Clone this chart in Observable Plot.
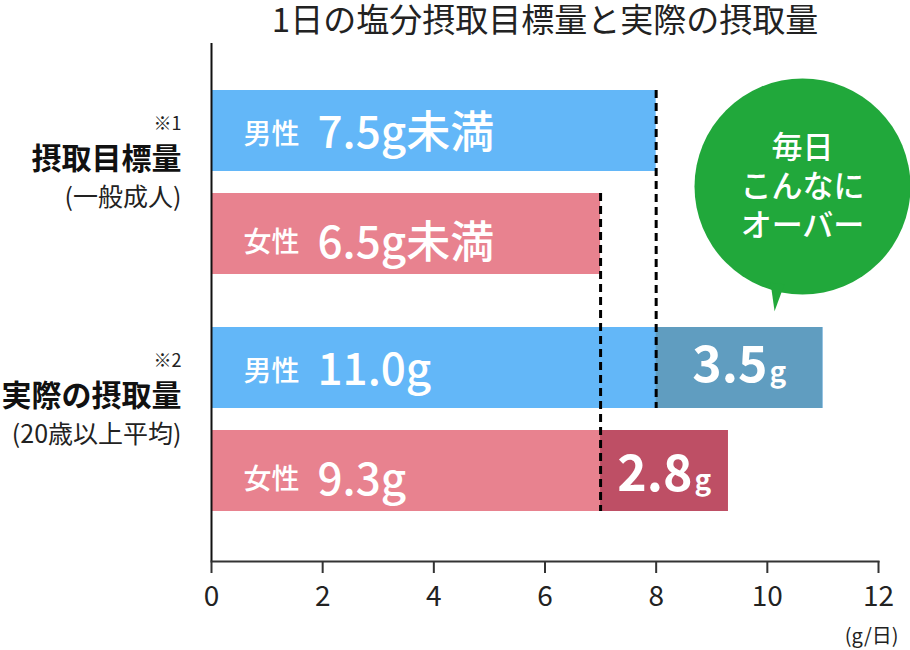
<!DOCTYPE html>
<html><head><meta charset="utf-8">
<script src="https://cdn.jsdelivr.net/npm/d3@7"></script>
<script src="https://cdn.jsdelivr.net/npm/@observablehq/plot@0.6"></script>
<style>
body{margin:0;background:#fff;}
#chart{width:910px;height:650px;}
</style></head><body><div id="chart"></div>
<script>
const title = "1日の塩分摂取目標量と実際の摂取量";
const groups = ["摂取目標量", "実際の摂取量"];
const groupNotes = ["※1", "※2"];
const groupSubs = ["(一般成人)", "(20歳以上平均)"];
const sexes = ["男性", "女性"];
const targetBars = [8.0, 7.0];          // bar ends as drawn in the picture
const targetLabels = ["7.5g未満", "6.5g未満"];
const actualValues = [11.0, 9.3];
const actualLabels = ["11.0g", "9.3g"];
const excessLabels = ["3.5", "2.8"];
const xTicks = [0, 2, 4, 6, 8, 10, 12];
const unitLabel = "(g/日)";
const bubbleLines = ["毎日", "こんなに", "オーバー"];

const lightFill = {"男性": "#63b7f8", "女性": "#e8828f"};
const darkFill = {"男性": "#609dc0", "女性": "#be4f65"};
const green = "#21a83b";

const rows = [];
sexes.forEach((s, i) => rows.push({group: groups[0], sex: s, value: targetBars[i], label: targetLabels[i]}));
sexes.forEach((s, i) => rows.push({group: groups[1], sex: s, value: actualValues[i], label: actualLabels[i]}));
const excess = sexes.map((s, i) => ({group: groups[1], sex: s, x1: targetBars[i], x2: actualValues[i], label: excessLabels[i]}));
const guides = sexes.map((s, i) => ({sex: s, x: targetBars[i]}));
const notes = groups.map((g, i) => ({group: g, note: groupNotes[i], sub: groupSubs[i]}));

const INSET = 103;
const sexOpt = {
  "男性": {inset: {insetBottom: INSET}, labelDy: -47.5, valueDy: -48.5, excessDy: -53.5},
  "女性": {inset: {insetTop: INSET}, labelDy: 61, valueDy: 61.5, excessDy: 55}
};

const marks = [];
for (const s of sexes) {
  const f = d => d.sex === s;
  const o = sexOpt[s];
  marks.push(Plot.barX(rows.filter(f), {x: "value", y: "group", fill: lightFill[s], ...o.inset}));
  marks.push(Plot.barX(excess.filter(f), {x1: "x1", x2: "x2", y: "group", fill: darkFill[s], ...o.inset}));
}
for (const s of sexes) {
  const f = d => d.sex === s;
  const o = sexOpt[s];
  marks.push(Plot.ruleX(guides.filter(f), {x: "x", y1: () => groups[0], y2: () => groups[1], stroke: "#000", strokeWidth: 3, strokeDasharray: "8,5", ...o.inset}));
  marks.push(Plot.text(rows.filter(f), {frameAnchor: "left", y: "group", text: "sex", dx: 32, dy: o.labelDy, textAnchor: "start", lineAnchor: "middle", fill: "white", fontSize: 28, fontWeight: 500}));
  marks.push(Plot.text(rows.filter(f), {frameAnchor: "left", y: "group", text: "label", dx: 106, dy: o.valueDy, textAnchor: "start", lineAnchor: "middle", fill: "white", fontSize: 44, fontWeight: 500}));
  marks.push(Plot.text(excess.filter(f), {x: d => (d.x1 + d.x2) / 2, y: "group", text: "label", dx: 28, dy: o.excessDy, textAnchor: "end", fill: "white", fontSize: 50, fontWeight: 700, ariaLabel: "excess-num"}));
  marks.push(Plot.text(excess.filter(f), {x: d => (d.x1 + d.x2) / 2, y: "group", text: () => "g", dx: 30, dy: o.excessDy + 7, textAnchor: "start", fill: "white", fontSize: 28, fontWeight: 700}));
}

const chart = Plot.plot({
  width: 910,
  height: 650,
  marginTop: 43,
  marginBottom: 89,
  marginLeft: 211,
  marginRight: 32,
  style: {fontFamily: "'Noto Sans CJK JP', 'Noto Sans', sans-serif", background: "white", color: "#222"},
  x: {domain: [0, 12]},
  y: {domain: groups, paddingInner: 53 / 237, paddingOuter: 0.20464, align: 0.4845, axis: null},
  marks: [
    ...marks,
    Plot.ruleX([0], {stroke: "#111", strokeWidth: 2}),
    Plot.frame({anchor: "bottom", stroke: "#333", strokeWidth: 2}),
    Plot.axisX({ticks: xTicks, tickSize: 12, tickPadding: 13, fontSize: 28, stroke: "#333", strokeWidth: 2, fill: "#222", label: null}),
    Plot.text([unitLabel], {frameAnchor: "bottom-right", text: d => d, dx: 20, dy: 75, textAnchor: "end", lineAnchor: "middle", fontSize: 20, fill: "#222"}),
    Plot.text(notes, {frameAnchor: "left", y: "group", text: "note", dx: -30, dy: -58, textAnchor: "end", lineAnchor: "middle", fontSize: 18, fill: "#222"}),
    Plot.text(notes, {frameAnchor: "left", y: "group", text: "group", dx: -30, dy: -23, textAnchor: "end", lineAnchor: "middle", fontSize: 30, fontWeight: 700, fill: "#111"}),
    Plot.text(notes, {frameAnchor: "left", y: "group", text: "sub", dx: -30, dy: 15.5, textAnchor: "end", lineAnchor: "middle", fontSize: 25, fill: "#222"}),
    Plot.text([title], {frameAnchor: "top", text: d => d, dy: -22, textAnchor: "middle", lineAnchor: "middle", fontSize: 33, fill: "#222"}),
    Plot.dot([0], {frameAnchor: "top-right", r: 108, fill: green, stroke: "none", dx: -76, dy: 143}),
    Plot.vector([0], {frameAnchor: "top-right", dx: -101, dy: 240, length: 28, rotate: 186, shape: "spike", anchor: "start", r: 7, fill: green, stroke: "none"}),
    Plot.text([bubbleLines.join("\n")], {frameAnchor: "top-right", text: d => d, dx: -76, dy: 141, textAnchor: "middle", lineAnchor: "middle", lineHeight: 1.25, fontSize: 31, fontWeight: 500, fill: "white"})
  ]
});
d3.select(chart).selectAll('g[aria-label="excess-num"] text').attr("letter-spacing", "-3px");
document.getElementById("chart").appendChild(chart);
</script></body></html>
